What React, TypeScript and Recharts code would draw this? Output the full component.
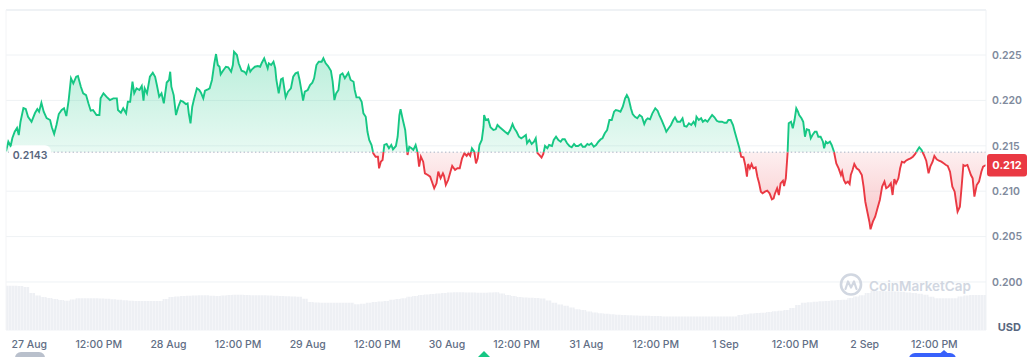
import React from 'react';
import { ComposedChart, Area, XAxis, YAxis, CartesianGrid, ReferenceLine } from 'recharts';

// ---------- data ----------
const BASE_PRICE = 0.2143;
const X_MIN = -4.0; // hours relative to 27 Aug 00:00
const X_MAX = 164.9;
const PRICE_MIN = 0.19471;
const PRICE_MAX = 0.22996;
const PRICE_TICKS = [0.2, 0.205, 0.21, 0.215, 0.22, 0.225];
const TIME_TICKS = [0, 12, 24, 36, 48, 60, 72, 84, 96, 108, 120, 132, 144, 156];
const TIME_LABELS = ['27 Aug', '12:00 PM', '28 Aug', '12:00 PM', '29 Aug', '12:00 PM', '30 Aug', '12:00 PM', '31 Aug', '12:00 PM', '1 Sep', '12:00 PM', '2 Sep', '12:00 PM'];

// [hour, price]
const PRICE_AUG27: [number, number][] = [
  [-4.0, 0.2144], [-3.6, 0.21545], [-3.2, 0.21498], [-2.9, 0.21586], [-2.5, 0.21655], [-2.1, 0.21696], [-1.8, 0.21619], [-1.5, 0.21765], [-1.0, 0.21916], [-0.6, 0.21905], [-0.2, 0.2182],
  [0.4, 0.21765], [1.0, 0.21861], [1.4, 0.21905], [1.7, 0.21876], [2.1, 0.21975], [2.5, 0.21876], [3.0, 0.21806], [3.6, 0.21784], [3.9, 0.21704], [4.3, 0.2163], [4.7, 0.21729], [5.1, 0.2185],
  [5.6, 0.21894], [6.0, 0.21913], [6.4, 0.21828], [6.8, 0.22004], [7.2, 0.22243], [7.6, 0.22188], [8.1, 0.22261], [8.4, 0.22269], [8.9, 0.22151], [9.3, 0.22078], [9.8, 0.22059], [10.2, 0.21968],
  [10.6, 0.21887], [11.0, 0.21894], [11.6, 0.21839], [12.1, 0.21839], [12.3, 0.22023], [12.8, 0.22078], [13.3, 0.22041], [13.9, 0.22004], [14.5, 0.22023], [15.1, 0.22023], [15.3, 0.21894],
  [15.8, 0.21865], [16.2, 0.21913], [16.7, 0.21858], [17.0, 0.21986], [17.4, 0.21986], [17.8, 0.22206], [18.1, 0.22078], [18.5, 0.22133], [19.0, 0.22115], [19.4, 0.22159], [19.7, 0.21997],
  [19.9, 0.22133], [20.3, 0.22078], [20.8, 0.22261], [21.3, 0.22305], [21.7, 0.22261], [22.0, 0.2217], [22.4, 0.22041], [22.8, 0.22078], [23.2, 0.21968], [23.7, 0.22197],
];
const PRICE_AUG28: [number, number][] = [
  [24.1, 0.22225], [24.3, 0.22316], [24.5, 0.22151], [24.9, 0.22059], [25.3, 0.21839], [25.7, 0.21931], [26.1, 0.21997], [26.5, 0.21986], [27.0, 0.2196], [27.3, 0.21968], [27.5, 0.21858],
  [27.8, 0.21748], [28.1, 0.21931], [28.4, 0.22012], [28.9, 0.22133], [29.3, 0.22115], [29.6, 0.22085], [30.0, 0.22023], [30.3, 0.22107], [30.8, 0.22122], [31.1, 0.22133], [31.5, 0.22225],
  [31.9, 0.22409], [32.2, 0.22511], [32.5, 0.2239], [32.8, 0.22371], [33.0, 0.22287], [33.4, 0.22327], [33.9, 0.22371], [34.3, 0.22365], [34.8, 0.22316], [35.1, 0.2239], [35.3, 0.22536],
  [35.8, 0.225], [36.1, 0.22409], [36.6, 0.22327], [37.1, 0.22316], [37.4, 0.22291], [37.8, 0.22379], [38.1, 0.22316], [38.4, 0.22343], [38.9, 0.22371], [39.4, 0.22379], [39.8, 0.22371],
  [40.1, 0.22415], [40.5, 0.22464], [40.8, 0.22409], [41.1, 0.22354], [41.3, 0.22409], [41.7, 0.2239], [42.1, 0.22426], [42.4, 0.22354], [42.6, 0.22225], [43.0, 0.22078], [43.4, 0.22232],
  [43.7, 0.22243], [44.2, 0.22034], [44.6, 0.22096], [45.1, 0.22133], [45.5, 0.22261], [45.9, 0.22298], [46.3, 0.22309], [46.6, 0.22225], [47.0, 0.22078], [47.2, 0.21997], [47.5, 0.22096],
  [48.0, 0.22115],
];
const PRICE_AUG29: [number, number][] = [
  [48.4, 0.2217], [48.8, 0.22195], [49.1, 0.22243], [49.5, 0.2239], [49.9, 0.22426], [50.4, 0.22426], [50.7, 0.22464], [51.1, 0.22409], [51.5, 0.22379], [52.0, 0.22327], [52.3, 0.22206],
  [52.6, 0.22004], [52.9, 0.22078], [53.3, 0.22115], [53.6, 0.2228], [54.0, 0.22298], [54.4, 0.22243], [55.0, 0.22305], [55.4, 0.22225], [55.9, 0.22206], [56.1, 0.22115], [56.4, 0.22034],
  [56.9, 0.22034], [57.3, 0.21986], [57.6, 0.21858], [58.0, 0.2182], [58.3, 0.21655], [58.6, 0.21564], [59.0, 0.21509], [59.3, 0.21417], [59.7, 0.2138], [60.1, 0.2138], [60.3, 0.21252],
  [60.6, 0.21325], [60.9, 0.21344], [61.2, 0.21509], [61.6, 0.2152], [62.0, 0.21473], [62.4, 0.21509], [62.7, 0.21461], [63.2, 0.21498], [63.5, 0.216], [63.8, 0.21839], [64.0, 0.21902],
  [64.4, 0.21784], [64.8, 0.21674], [65.1, 0.21473], [65.2, 0.21399], [65.5, 0.2149], [65.9, 0.21473], [66.2, 0.21454], [66.6, 0.21509], [66.9, 0.21435], [67.2, 0.2127], [67.5, 0.2138],
  [67.9, 0.21325], [68.2, 0.21197], [68.7, 0.21178], [69.1, 0.2116], [69.5, 0.21087], [69.8, 0.21032], [70.2, 0.21087], [70.5, 0.21215], [70.9, 0.21142], [71.3, 0.21197], [71.5, 0.21167],
  [71.8, 0.21068],
];
const PRICE_AUG30: [number, number][] = [
  [72.2, 0.21123], [72.6, 0.21215], [72.9, 0.21278], [73.4, 0.21234], [73.8, 0.21252], [74.2, 0.21252], [74.6, 0.21362], [75.0, 0.21417], [75.4, 0.21388], [75.7, 0.21417], [76.0, 0.21388],
  [76.3, 0.21473], [76.7, 0.21435], [77.0, 0.21307], [77.3, 0.21362], [77.6, 0.21509], [78.0, 0.21564], [78.3, 0.2171], [78.4, 0.21839], [78.7, 0.21784], [79.1, 0.21792], [79.5, 0.21704],
  [80.0, 0.21674], [80.4, 0.21682], [80.7, 0.21729], [81.1, 0.21704], [81.5, 0.21682], [82.0, 0.21655], [82.5, 0.2163], [82.9, 0.21674], [83.3, 0.2174], [83.6, 0.21693], [84.0, 0.21655],
  [84.4, 0.216], [84.8, 0.21583], [85.2, 0.216], [85.6, 0.21619], [85.8, 0.21528], [86.2, 0.21564], [86.6, 0.2152], [87.0, 0.21545], [87.3, 0.21583], [87.6, 0.2142], [87.9, 0.214],
  [88.3, 0.2137], [88.6, 0.2141], [88.9, 0.21498], [89.3, 0.21473], [89.6, 0.21509], [90.1, 0.21498], [90.4, 0.21564], [90.8, 0.216], [91.2, 0.21564], [91.6, 0.21545], [91.9, 0.21572],
  [92.3, 0.21572], [92.7, 0.21528], [93.1, 0.21498], [93.5, 0.21484], [93.9, 0.2152], [94.2, 0.21498], [94.6, 0.21498], [95.1, 0.2152], [95.4, 0.2149], [95.8, 0.2149],
];
const PRICE_AUG31: [number, number][] = [
  [96.2, 0.2152], [96.5, 0.21509], [96.9, 0.21528], [97.3, 0.2149], [97.7, 0.21509], [98.1, 0.21545], [98.5, 0.21572], [98.8, 0.21583], [99.2, 0.21638], [99.6, 0.21674], [100.0, 0.21784],
  [100.4, 0.21784], [100.8, 0.21876], [101.1, 0.21894], [101.5, 0.21887], [101.9, 0.21876], [102.3, 0.21931], [102.7, 0.22023], [103.0, 0.22059], [103.3, 0.22023], [103.7, 0.21913],
  [104.0, 0.2185], [104.4, 0.2182], [104.8, 0.21803], [105.2, 0.21839], [105.6, 0.2182], [106.0, 0.2174], [106.3, 0.21784], [106.6, 0.21803], [107.0, 0.21792], [107.4, 0.21858],
  [107.9, 0.21913], [108.3, 0.21887], [108.6, 0.21839], [109.0, 0.21784], [109.5, 0.21707], [109.8, 0.21655], [110.2, 0.21693], [110.6, 0.21729], [111.0, 0.21784], [111.3, 0.21814],
  [111.7, 0.21765], [112.2, 0.21765], [112.6, 0.21803], [112.9, 0.21718], [113.3, 0.2171], [113.7, 0.21748], [114.1, 0.21729], [114.5, 0.21765], [114.8, 0.21729], [115.0, 0.2182],
  [115.4, 0.21784], [115.8, 0.21803], [116.1, 0.21765], [116.5, 0.21784], [116.9, 0.21765], [117.3, 0.21803], [117.7, 0.21839], [118.1, 0.21814], [118.5, 0.21776], [118.9, 0.21765],
  [119.4, 0.21765], [119.8, 0.21754],
];
const PRICE_SEP1: [number, number][] = [
  [120.2, 0.21754], [120.5, 0.21784], [120.9, 0.21784], [121.3, 0.21729], [121.6, 0.21655], [122.0, 0.21564], [122.4, 0.21473], [122.7, 0.2138], [123.1, 0.21373], [123.4, 0.21289],
  [123.7, 0.2116], [123.9, 0.213], [124.2, 0.21252], [124.5, 0.213], [124.8, 0.21252], [125.2, 0.21263], [125.5, 0.2116], [125.8, 0.21087], [126.1, 0.20995], [126.4, 0.20977],
  [126.8, 0.20995], [127.2, 0.21006], [127.6, 0.20977], [128.0, 0.20911], [128.3, 0.20922], [128.5, 0.20969], [128.9, 0.21032], [129.2, 0.20958], [129.5, 0.21087], [129.9, 0.21116],
  [130.1, 0.21057], [130.4, 0.21142], [130.7, 0.21417], [130.9, 0.21748], [131.3, 0.21765], [131.6, 0.21693], [131.9, 0.21784], [132.2, 0.21913], [132.5, 0.21876], [132.7, 0.21839],
  [133.1, 0.21803], [133.4, 0.21765], [133.7, 0.216], [134.0, 0.21682], [134.4, 0.21674], [134.7, 0.21583], [135.0, 0.21619], [135.4, 0.21655], [135.7, 0.21655], [136.0, 0.216],
  [136.4, 0.216], [136.8, 0.21545], [137.0, 0.21473], [137.3, 0.21545], [137.6, 0.21528], [138.0, 0.21545], [138.3, 0.21509], [138.7, 0.21435], [139.1, 0.21307], [139.5, 0.21252],
  [139.9, 0.21178], [140.1, 0.21215], [140.4, 0.21123], [140.7, 0.21087], [141.1, 0.21105], [141.4, 0.21079], [141.6, 0.21178], [141.9, 0.21234], [142.2, 0.213], [142.6, 0.21252],
  [143.0, 0.21234], [143.5, 0.21178], [143.8, 0.2105],
];
const PRICE_SEP2: [number, number][] = [
  [144.1, 0.20884], [144.5, 0.20757], [144.8, 0.20664], [145.0, 0.2058], [145.4, 0.20664], [145.8, 0.20719], [146.2, 0.20812], [146.6, 0.20903], [147.0, 0.2105], [147.4, 0.21105],
  [147.7, 0.21032], [148.1, 0.2105], [148.5, 0.21087], [148.8, 0.20958], [149.1, 0.21134], [149.4, 0.21087], [149.8, 0.21142], [150.1, 0.21252], [150.4, 0.21325], [150.8, 0.21314],
  [151.1, 0.21336], [151.5, 0.21351], [151.9, 0.21362], [152.3, 0.2138], [152.7, 0.2141], [153.1, 0.21454], [153.4, 0.21484], [153.8, 0.21454], [154.2, 0.21399], [154.6, 0.21336],
  [155.0, 0.21197], [155.3, 0.2127], [155.7, 0.21325], [156.0, 0.21388], [156.4, 0.21351], [156.8, 0.21336], [157.2, 0.21325], [157.6, 0.21307], [158.0, 0.21289], [158.3, 0.21278],
  [158.7, 0.21215], [159.1, 0.2105], [159.5, 0.20995], [159.7, 0.20903], [160.0, 0.20774], [160.4, 0.20829], [160.7, 0.2105], [161.0, 0.21289], [161.3, 0.21278], [161.7, 0.21289],
  [162.0, 0.21234], [162.3, 0.21178], [162.6, 0.21142], [162.9, 0.2094], [163.3, 0.21068], [163.7, 0.21105], [164.1, 0.21215], [164.4, 0.2127], [164.9, 0.21289],
];

// hourly volume (million USD), starting at VOLUME_START_HOUR
const VOLUME_START_HOUR = -4;
const VOLUME_M = [
  177, 177, 176, 172, 148, 138, 132, 128, 124, 120, 117, 122,
  127, 127, 127, 127, 126, 125, 123, 121, 119, 117, 116, 116,
  116, 116, 116, 124, 132, 134, 136, 137, 138, 139, 139, 137,
  136, 138, 140, 141, 141, 140, 139, 139, 139, 138, 137, 136,
  135, 134, 133, 125, 112, 110, 109, 109, 109, 109, 109, 109,
  103, 105, 109, 112, 114, 116, 121, 124, 127, 133, 136, 140,
  142, 144, 146, 148, 150, 151, 151, 150, 150, 149, 149, 150,
  151, 146, 140, 136, 132, 130, 129, 128, 126, 118, 109, 102,
  97, 90, 83, 80, 74, 70, 67, 65, 63, 61, 60, 59,
  58, 57, 57, 56, 56, 54, 54, 54, 54, 54, 54, 54,
  54, 54, 54, 54, 54, 54, 60, 63, 66, 68, 69, 72,
  75, 77, 80, 88, 100, 109, 111, 113, 115, 116, 118, 120,
  121, 128, 134, 139, 148, 157, 156, 155, 155, 154, 153, 150,
  148, 145, 141, 133, 127, 127, 127, 127, 134, 138, 140, 140,
  140, 140,
];
const VOLUME_MAX_AXIS = 1280;

// ---------- build rows ----------
type Row = { t: number; price?: number; vol?: number };
const PRICE_SEGMENTS = [PRICE_AUG27, PRICE_AUG28, PRICE_AUG29, PRICE_AUG30, PRICE_AUG31, PRICE_SEP1, PRICE_SEP2];
const priceRows: Row[] = [];
PRICE_SEGMENTS.forEach((seg) => seg.forEach(([t, p]) => priceRows.push({ t, price: p })));
const volRows: Row[] = VOLUME_M.map((v, i) => ({ t: VOLUME_START_HOUR + i, vol: v }));
const ROWS: Row[] = [...priceRows, ...volRows].sort((a, b) => a.t - b.t);

const allPrices = priceRows.map((r) => r.price as number);
const P_MAX = Math.max(...allPrices);
const P_MIN = Math.min(...allPrices);
const SPLIT = (P_MAX - BASE_PRICE) / (P_MAX - P_MIN);
const LAST_PRICE = allPrices[allPrices.length - 1];
const LAST_LABEL = (Math.floor(LAST_PRICE * 1000) / 1000).toFixed(3);

const GREEN = '#16c784';
const RED = '#ea3943';
const FONT = 'Inter, "Noto Sans", sans-serif';

const BaseLabel = (props: any) => {
  const vb = props.viewBox || {};
  const x = vb.x ?? 0;
  const y = vb.y ?? 0;
  return (
    <g>
      <rect x={x + 3} y={y - 7} width={42} height={22} rx={6} fill="#ffffff" />
      <text x={x + 24} y={y + 6.5} textAnchor="middle" fontSize={10.5} fontWeight={600} fill="#58667e" fontFamily={FONT}>
        {String(BASE_PRICE)}
      </text>
    </g>
  );
};

const LastLabel = (props: any) => {
  const vb = props.viewBox || {};
  const x = (vb.x ?? 0) + (vb.width ?? 0);
  const y = vb.y ?? 0;
  return (
    <g>
      <rect x={x + 1} y={y - 11} width={40} height={22.5} rx={3} fill={RED} />
      <text x={x + 21} y={y + 4} textAnchor="middle" fontSize={11} fontWeight={700} fill="#ffffff" fontFamily={FONT}>
        {LAST_LABEL}
      </text>
    </g>
  );
};

export default function App() {
  return (
    <div style={{ position: 'absolute', left: 0, top: 0, width: 1027, height: 357, background: '#fff', fontFamily: FONT, overflow: 'hidden' }}>
      <ComposedChart
        width={1027}
        height={357}
        data={ROWS}
        margin={{ top: 10, right: 0, bottom: 0, left: 6 }}
        style={{ fontFamily: FONT }}
      >
        <defs>
          <linearGradient id="priceStroke" x1="0" y1="0" x2="0" y2="1">
            <stop offset={0} stopColor={GREEN} />
            <stop offset={SPLIT} stopColor={GREEN} />
            <stop offset={SPLIT} stopColor={RED} />
            <stop offset={1} stopColor={RED} />
          </linearGradient>
          <linearGradient id="priceFill" x1="0" y1="0" x2="0" y2="1">
            <stop offset={0} stopColor={GREEN} stopOpacity={0.3} />
            <stop offset={SPLIT} stopColor={GREEN} stopOpacity={0.1} />
            <stop offset={SPLIT} stopColor={RED} stopOpacity={0.08} />
            <stop offset={1} stopColor={RED} stopOpacity={0.3} />
          </linearGradient>
          <pattern id="volPattern" patternUnits="userSpaceOnUse" width={3} height={10}>
            <rect x={0} y={0} width={3} height={10} fill="#f7f8fa" />
            <rect x={0} y={0} width={2.3} height={10} fill="#eef0f4" />
          </pattern>
        </defs>
        <CartesianGrid yAxisId="price" vertical={false} stroke="#eff2f5" />
        <XAxis
          dataKey="t"
          type="number"
          domain={[X_MIN, X_MAX]}
          allowDataOverflow
          ticks={TIME_TICKS}
          tickFormatter={(v: number) => TIME_LABELS[TIME_TICKS.indexOf(v)] ?? ''}
          axisLine={false}
          tickLine={false}
          tickSize={0}
          tickMargin={11}
          height={27}
          interval={0}
          tick={{ fontSize: 10.5, fill: '#616e85', fontWeight: 500, fontFamily: FONT }}
        />
        <YAxis
          yAxisId="price"
          orientation="right"
          type="number"
          domain={[PRICE_MIN, PRICE_MAX]}
          allowDataOverflow
          ticks={PRICE_TICKS}
          tickFormatter={(v: number) => v.toFixed(3)}
          axisLine={{ stroke: '#eff2f5' }}
          tickLine={false}
          tickSize={0}
          tickMargin={6}
          width={41}
          interval={0}
          tick={{ fontSize: 10.5, fill: '#808a9d', fontWeight: 600, fontFamily: FONT }}
        />
        <YAxis yAxisId="vol" hide type="number" domain={[0, VOLUME_MAX_AXIS]} />
        <Area
          yAxisId="vol"
          dataKey="vol"
          type="stepAfter"
          stroke="none"
          fill="url(#volPattern)"
          fillOpacity={1}
          connectNulls
          dot={false}
          activeDot={false}
          isAnimationActive={false}
        />
        <Area
          yAxisId="price"
          dataKey="price"
          type="linear"
          baseValue={BASE_PRICE}
          stroke="url(#priceStroke)"
          strokeWidth={1.9}
          fill="url(#priceFill)"
          fillOpacity={1}
          connectNulls
          dot={false}
          activeDot={false}
          isAnimationActive={false}
        />
        <ReferenceLine yAxisId="price" y={PRICE_MAX} stroke="#eff2f5" strokeWidth={2} />
        <ReferenceLine yAxisId="price" x={X_MIN} stroke="#f3f4f6" strokeWidth={1} />
        <ReferenceLine
          yAxisId="price"
          y={BASE_PRICE}
          stroke="#a6b0c3"
          strokeWidth={1}
          strokeDasharray="1.4 2.4"
          label={<BaseLabel />}
        />
        <ReferenceLine yAxisId="price" y={LAST_PRICE} stroke="none" strokeOpacity={0} label={<LastLabel />} />
      </ComposedChart>
      <svg width={1027} height={357} style={{ position: 'absolute', left: 0, top: 0, pointerEvents: 'none' }}>
        <g opacity={0.9}>
          <circle cx={851} cy={284.5} r={10} fill="none" stroke="#cdd3de" strokeWidth={2.6} />
          <path d="M845.5 289 L848 281.5 L851 287.5 L854 281.5 L856.5 289" fill="none" stroke="#cdd3de" strokeWidth={2.2} strokeLinejoin="round" strokeLinecap="round" />
          <text x={869} y={290.5} fontSize={13.5} fontWeight={600} fill="#cdd3de" fontFamily={FONT}>CoinMarketCap</text>
        </g>
        <text x={1021} y={330.5} textAnchor="end" fontSize={11} fontWeight={700} fill="#58667e" fontFamily={FONT}>USD</text>
        <rect x={15} y={352} width={30} height={12} rx={6} fill="#b9c0cc" />
        <polygon points="478,357 484,351 490,357" fill={GREEN} />
        <rect x={909} y={353} width={47} height={12} rx={6} fill="#3861fb" />
        <polygon points="940,353.5 944,350 948,353.5" fill="#3861fb" />
      </svg>
    </div>
  );
}
